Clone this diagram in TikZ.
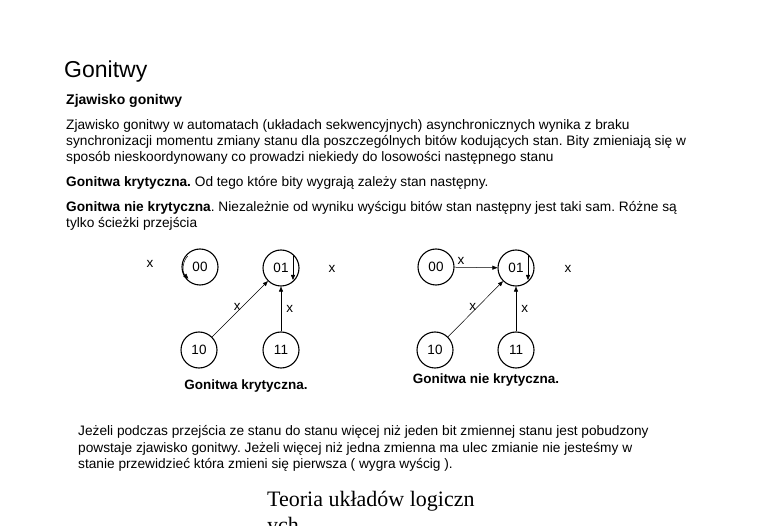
\documentclass[tikz,border=0pt]{standalone}
\usepackage{fontspec}
\setmainfont{Liberation Sans}
\newfontfamily\serifA{Liberation Serif}
\usetikzlibrary{arrows.meta,calc}
\tikzset{
  txt/.style={anchor=base west, inner sep=0pt, font=\fontsize{13.7}{16}\selectfont},
  st/.style={circle, draw, line width=1.1pt, minimum size=36pt, inner sep=0pt, font=\fontsize{13.5}{15}\selectfont},
  lbl/.style={inner sep=0pt, font=\fontsize{13.5}{15}\selectfont},
  arr/.style={-{Triangle[length=5pt,width=4pt]}, line width=0.5pt},
  captxt/.style={inner sep=0pt, font=\bfseries\fontsize{13.5}{15}\selectfont}
}
\begin{document}
\frenchspacing
\begin{tikzpicture}[x=1pt,y=-1pt]
\path[use as bounding box] (0,0) rectangle (760,526);
\clip (0,0) rectangle (760,526);
\fill[white] (0,0) rectangle (760,526);
\node[txt, font=\fontsize{23}{26}\selectfont] (title) at (64,78) {Gonitwy};
\node[txt, font=\bfseries\fontsize{14}{16}\selectfont] (h1) at (66,105) {Zjawisko gonitwy};
\node[txt] (p1) at (66,130) {Zjawisko gonitwy w automatach (układach sekwencyjnych) asynchronicznych wynika z braku};
\node[txt] (p2) at (66,146) {synchronizacji momentu zmiany stanu dla poszczególnych bitów kodujących stan. Bity zmieniają się w};
\node[txt] (p3) at (66,162) {sposób nieskoordynowany co prowadzi niekiedy do losowości następnego stanu};
\node[txt] (p4) at (66,187) {\textbf{Gonitwa krytyczna.} Od tego które bity wygrają zależy stan następny.};
\node[txt] (p5) at (66,212) {\textbf{Gonitwa nie krytyczna}. Niezależnie od wyniku wyścigu bitów stan następny jest taki sam. Różne są};
\node[txt] (p6) at (66,228) {tylko ścieżki przejścia};

% left diagram
\node[st] (a00) at (200,267) {00};
\node[st] (a01) at (281,268) {01};
\node[st] (a10) at (199,350) {10};
\node[st] (a11) at (281,350) {11};
\node[lbl] (ax1) at (150,264) {x};
\node[lbl] (ax2) at (332,269) {x};
\draw[arr] (a10) -- (a01) node[lbl, pos=0.45, above=1pt] {x};
\draw[arr] (a11) -- (a01) node[lbl, pos=0.5, right=5pt] {x};
\draw[arr] ($(a00.center)+(222:16.5)$) arc[start angle=222, end angle=135, radius=16.5];
\draw[arr] ($(a01.center)+(12,-13)$) -- ($(a01.center)+(12,12)$);
\node[captxt] (capA) at (246,386) {Gonitwa krytyczna.};

% right diagram
\node[st] (b00) at (436,267) {00};
\node[st] (b01) at (516,268) {01};
\node[st] (b10) at (435,350) {10};
\node[st] (b11) at (516,350) {11};
\node[lbl] (bx2) at (568,269) {x};
\draw[arr] (b00) -- (b01) node[lbl, pos=0.15, above=3pt] {x};
\draw[arr] (b10) -- (b01) node[lbl, pos=0.45, above=1pt] {x};
\draw[arr] (b11) -- (b01) node[lbl, pos=0.5, right=5pt] {x};
\draw[arr] ($(b01.center)+(12,-13)$) -- ($(b01.center)+(12,12)$);
\node[captxt] (capB) at (486,380) {Gonitwa nie krytyczna.};

\node[txt, font=\fontsize{13.7}{16}\selectfont] (q1) at (78,435) {Jeżeli podczas przejścia ze stanu do stanu więcej niż jeden bit zmiennej stanu jest pobudzony};
\node[txt, font=\fontsize{13.7}{16}\selectfont] (q2) at (78,452) {powstaje zjawisko gonitwy. Jeżeli więcej niż jedna zmienna ma ulec zmianie nie jesteśmy w};
\node[txt, font=\fontsize{13.7}{16}\selectfont] (q3) at (78,468) {stanie przewidzieć która zmieni się pierwsza ( wygra wyścig ).};
\node[txt, font=\serifA\fontsize{22}{26}\selectfont] (f1) at (267,506) {Teoria układów logiczn};
\node[txt, font=\serifA\fontsize{22}{26}\selectfont] (f2) at (267,532) {ych};
\end{tikzpicture}
\end{document}
